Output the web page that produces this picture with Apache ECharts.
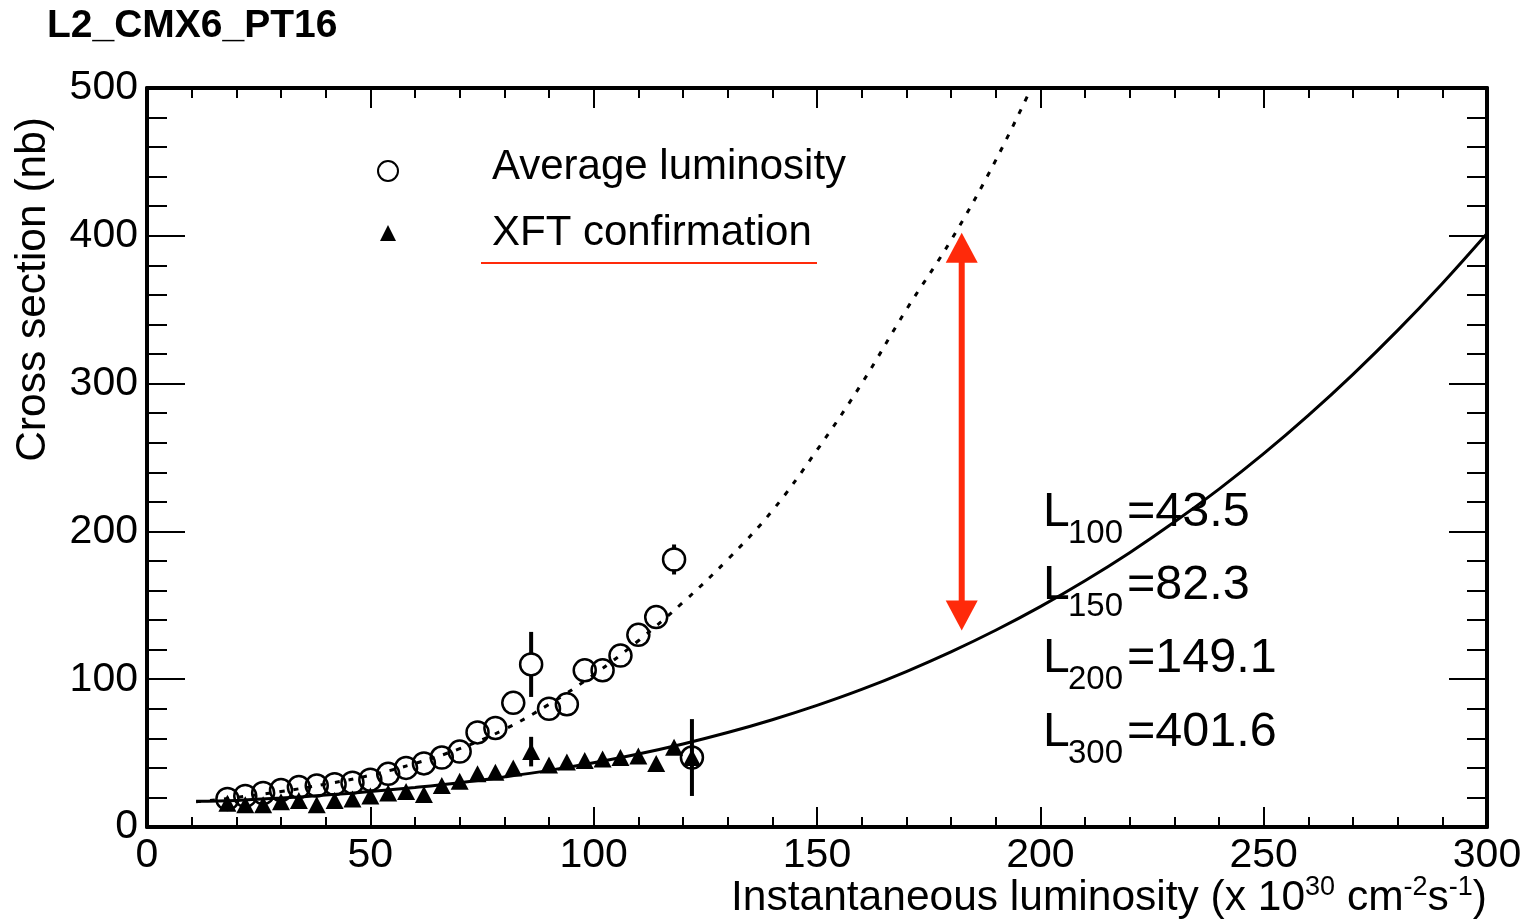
<!DOCTYPE html>
<html><head><meta charset="utf-8">
<script src="https://cdn.jsdelivr.net/npm/echarts@6/dist/echarts.min.js"></script>
<style>html,body{margin:0;padding:0;background:#fff}#c{width:1526px;height:921px}</style>
</head><body><div id="c"></div>
<script>
// ---------- data ----------
const chartTitle = 'L2_CMX6_PT16';
const legendNames = ['Average luminosity', 'XFT confirmation'];
const xAxisTitle = ['Instantaneous luminosity (x 10', '30', ' cm', '-2', 's', '-1', ')'];
const yAxisTitle = 'Cross section (nb)';

const avgX   = [18,22,26,30,34,38,42,46,50,54,58,62,66,70,74,78,82,86,90,94,98,102,106,110,114,118,122];
const avgY   = [19,21,23,25,27,28,29,30,32,36,40,43,47,51,64,67,84,110,80,83,106,106,116,130,142,181,47];
const avgErr = [0,0,0,0,0,0,0,0,0,0,0,0,0,0,0,0,0,22,0,0,0,0,0,0,0,6,0];

const xftX   = [18,22,26,30,34,38,42,46,50,54,58,62,66,70,74,78,82,86,90,94,98,102,106,110,114,118,122];
const xftY   = [16,15,15,17,18,15,18,19,21,23,24,22,28,31,36,37,40,51,42,44,45,46,47,48,43,54,47];
const xftErr = [0,0,0,0,0,0,0,0,0,0,0,0,0,0,0,0,0,10,0,0,0,0,0,0,0,0,26];

const solidFitX = [11,20,30,40,50,60,70,80,90,100,110,120,130,140,150,160,170,180,190,200,210,220,230,240,250,260,270,280,290,300];
const solidFitY = [17.5,18,19.6,21.6,24,26.8,30,33.9,38.3,43.5,49.4,56.2,63.9,72.6,82.3,93.1,105.2,118.5,133.1,149.1,166.6,185.6,206.3,228.6,252.6,278.5,306.3,336,367.8,401.6];

const dotFitX = [11,20,30,40,50,60,70,80,90,100,110,120,130,140,150,160,170,180,190,200];
const dotFitY = [17,20,24,29,35,43,53,66,83,103,126,152,181,214,255,300,350,397,451,513];

const fitLabels = [['100','=43.5'],['150','=82.3'],['200','=149.1'],['300','=401.6']];
const arrowX = 182.4, arrowLow = 133, arrowHigh = 402;

// ---------- chart ----------
const chart = echarts.init(document.getElementById('c'), null, {renderer:'canvas'});
const FONT = 'Liberation Sans, Arial, Helvetica, sans-serif';
const red = '#ff2a0a';
const CIRCLE_R = 11;

function zip(a,b,c){ return a.map((v,i)=> c ? [v,b[i],c[i]] : [v,b[i]]); }

function xAxis(pos, labels){
  return {
    type:'value', position:pos, min:0, max:300, interval:50,
    axisLine:{show:true, onZero:false, lineStyle:{color:'#000', width:4}},
    axisTick:{show:true, inside:true, length:20, lineStyle:{color:'#000', width:2}},
    minorTick:{show:true, splitNumber:5, length:10, lineStyle:{color:'#000', width:2}},
    splitLine:{show:false},
    axisLabel:{show:labels, color:'#000', fontSize:41, fontFamily:FONT, margin:8},
  };
}
function yAxis(pos, labels){
  return {
    type:'value', position:pos, min:0, max:500, interval:100,
    axisLine:{show:true, onZero:false, lineStyle:{color:'#000', width:4}},
    axisTick:{show:true, inside:true, length:38, lineStyle:{color:'#000', width:2}},
    minorTick:{show:true, splitNumber:5, length:20, lineStyle:{color:'#000', width:2}},
    splitLine:{show:false},
    axisLabel:{show:labels, color:'#000', fontSize:41, fontFamily:FONT, margin:9},
  };
}

// error bars drawn outside the marker (ROOT style) for hollow circles
function errRenderHollow(params, api){
  const x = api.value(0), y = api.value(1), e = api.value(2);
  if (!e) return null;
  const c = api.coord([x, y]);
  const lo = api.coord([x, y - e]), hi = api.coord([x, y + e]);
  const up = Math.max(c[1] - hi[1], CIRCLE_R + 4);
  const dn = Math.max(lo[1] - c[1], CIRCLE_R + 4);
  return {type:'group', children:[
    {type:'line', shape:{x1:c[0], y1:c[1]-CIRCLE_R+1, x2:c[0], y2:c[1]-up}, style:{stroke:'#000', lineWidth:4}},
    {type:'line', shape:{x1:c[0], y1:c[1]+CIRCLE_R-1, x2:c[0], y2:c[1]+dn}, style:{stroke:'#000', lineWidth:4}}
  ]};
}
function errRender(params, api){
  const x = api.value(0), y = api.value(1), e = api.value(2);
  if (!e) return null;
  const p1 = api.coord([x, y - e]), p2 = api.coord([x, y + e]);
  return {type:'line', shape:{x1:p1[0], y1:p1[1], x2:p2[0], y2:p2[1]}, style:{stroke:'#000', lineWidth:4}};
}

function arrowRender(params, api){
  const top = api.coord([api.value(0), api.value(2)]);
  const bot = api.coord([api.value(0), api.value(1)]);
  const x = top[0], hw = 16, hh = 30;
  return {type:'group', children:[
    {type:'line', shape:{x1:x, y1:top[1]+hh-2, x2:x, y2:bot[1]-hh+2}, style:{stroke:red, lineWidth:6}},
    {type:'polygon', shape:{points:[[x, top[1]],[x-hw, top[1]+hh],[x+hw, top[1]+hh]]}, style:{fill:red}},
    {type:'polygon', shape:{points:[[x, bot[1]],[x-hw, bot[1]-hh],[x+hw, bot[1]-hh]]}, style:{fill:red}}
  ]};
}

const graphics = [];
graphics.push({type:'text', left:47, top:7, style:{text:chartTitle, font:'bold 39px ' + FONT, fill:'#000'}});
// legend
graphics.push({type:'circle', shape:{cx:388, cy:171, r:10}, style:{fill:'none', stroke:'#000', lineWidth:2}});
graphics.push({type:'polygon', shape:{points:[[388,225],[380,241],[396,241]]}, style:{fill:'#000'}});
graphics.push({type:'text', x:492, y:167, style:{text:legendNames[0], font:'42px ' + FONT, fill:'#000', verticalAlign:'middle'}});
graphics.push({type:'text', x:492, y:233, style:{text:legendNames[1], font:'42px ' + FONT, fill:'#000', verticalAlign:'middle'}});
graphics.push({type:'line', shape:{x1:481, y1:263, x2:817, y2:263}, style:{stroke:red, lineWidth:2}});
// fit labels
const baseLines = [530, 603, 676, 750];
fitLabels.forEach((f, i) => {
  const b = baseLines[i];
  graphics.push({type:'text', x:1043, y:b - 17, style:{text:'L', font:'48px ' + FONT, fill:'#000', verticalAlign:'middle'}});
  graphics.push({type:'text', x:1068, y:b + 4, style:{text:f[0], font:'33px ' + FONT, fill:'#000', verticalAlign:'middle'}});
  graphics.push({type:'text', x:1127, y:b - 17, style:{text:f[1], font:'48.5px ' + FONT, fill:'#000', verticalAlign:'middle'}});
});
// x axis title
graphics.push({type:'text', x:1487, y:898, style:{
  text:'{a|' + xAxisTitle[0] + '}{s|' + xAxisTitle[1] + '}{a|' + xAxisTitle[2] + '}{s|' + xAxisTitle[3] + '}{a|' + xAxisTitle[4] + '}{s|' + xAxisTitle[5] + '}{a|' + xAxisTitle[6] + '}',
  align:'right', verticalAlign:'middle', fill:'#000',
  rich:{a:{fontSize:42.5, fontFamily:FONT, lineHeight:48, color:'#000'}, s:{fontSize:27, fontFamily:FONT, lineHeight:26, verticalAlign:'top', color:'#000'}}
}});
// y axis title
graphics.push({type:'text', x:33, y:117, rotation:Math.PI/2, style:{text:yAxisTitle, font:'42.5px ' + FONT, fill:'#000', align:'right', verticalAlign:'middle'}});

chart.setOption({
  animation:false,
  backgroundColor:'#fff',
  grid:{left:147, right:39, top:88, bottom:94, containLabel:false},
  xAxis:[xAxis('bottom', true), xAxis('top', false)],
  yAxis:[yAxis('left', true), yAxis('right', false)],
  series:[
    {type:'line', data:zip(dotFitX, dotFitY), showSymbol:false, symbol:'none', smooth:0.4, clip:true,
     lineStyle:{color:'#000', width:3, type:[5,9]}, z:2},
    {type:'line', data:zip(solidFitX, solidFitY), showSymbol:false, symbol:'none', smooth:0.4, clip:true,
     lineStyle:{color:'#000', width:3}, z:2},
    {type:'custom', renderItem:errRenderHollow, data:zip(avgX, avgY, avgErr), z:3},
    {type:'custom', renderItem:errRender, data:zip(xftX, xftY, xftErr), z:3},
    {type:'scatter', data:zip(avgX, avgY), symbol:'circle', symbolSize:CIRCLE_R*2,
     itemStyle:{color:'rgba(0,0,0,0)', borderColor:'#000', borderWidth:2.5, opacity:1}, z:4},
    {type:'scatter', data:zip(xftX, xftY), symbol:'triangle', symbolSize:[18,17],
     itemStyle:{color:'#000', opacity:1}, z:4},
    {type:'custom', renderItem:arrowRender, data:[[arrowX, arrowLow, arrowHigh]], z:5}
  ],
  graphic:graphics
});
</script></body></html>
